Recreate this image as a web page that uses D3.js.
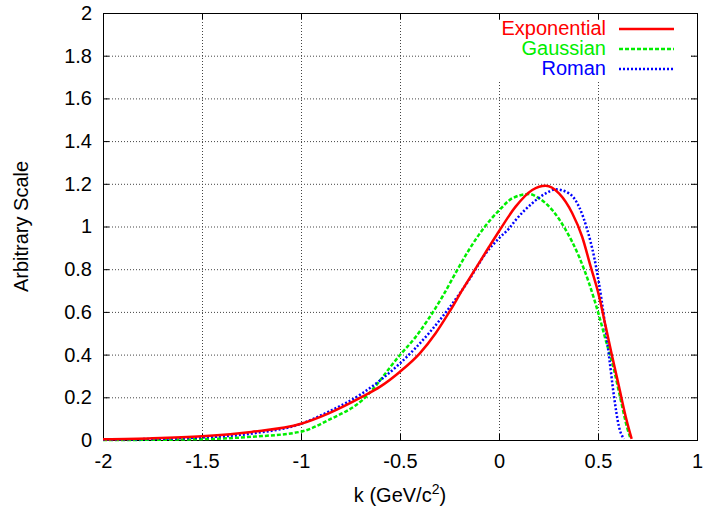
<!DOCTYPE html>
<html>
<head>
<meta charset="utf-8">
<script src="https://cdn.jsdelivr.net/npm/d3@7"></script>
<style>
  body { margin: 0; background: #fff; }
  text { font-family: "Liberation Sans", Arial, sans-serif; }
</style>
</head>
<body>
<svg id="chart" width="707" height="511"></svg>
<script>
// values
var xTicks = [-2, -1.5, -1, -0.5, 0, 0.5, 1];
var yTicks = [0, 0.2, 0.4, 0.6, 0.8, 1, 1.2, 1.4, 1.6, 1.8, 2];

var expX = [-2, -1.75, -1.5, -1.25, -1, -0.86, -0.69, -0.6, -0.5, -0.4, -0.32, -0.25, -0.185, -0.12, -0.05, 0, 0.084, 0.168, 0.236, 0.303, 0.37, 0.42, 0.463, 0.502, 0.539, 0.572, 0.606, 0.64, 0.67];
var expY = [0.003, 0.008, 0.018, 0.038, 0.076, 0.125, 0.203, 0.25, 0.32, 0.406, 0.5, 0.601, 0.703, 0.8, 0.905, 0.978, 1.093, 1.171, 1.191, 1.155, 1.062, 0.952, 0.812, 0.687, 0.531, 0.39, 0.25, 0.109, 0.005];

var gauX = [-2, -1.75, -1.5, -1.25, -1, -0.86, -0.69, -0.5, -0.42, -0.354, -0.286, -0.22, -0.152, -0.084, 0, 0.067, 0.152, 0.202, 0.269, 0.337, 0.404, 0.455, 0.502, 0.539, 0.581, 0.615, 0.648, 0.665];
var gauY = [0.0, 0.001, 0.004, 0.015, 0.039, 0.094, 0.187, 0.398, 0.484, 0.57, 0.671, 0.781, 0.89, 0.984, 1.075, 1.132, 1.152, 1.132, 1.077, 0.984, 0.859, 0.734, 0.593, 0.468, 0.328, 0.187, 0.055, 0.005];

var romX = [-2, -1.75, -1.5, -1.25, -1, -0.86, -0.69, -0.5, -0.354, -0.253, -0.152, -0.067, 0, 0.05, 0.084, 0.168, 0.236, 0.286, 0.354, 0.404, 0.446, 0.48, 0.505, 0.53, 0.556, 0.581, 0.606, 0.631];
var romY = [0.002, 0.005, 0.012, 0.03, 0.076, 0.133, 0.219, 0.359, 0.5, 0.617, 0.749, 0.874, 0.945, 0.99, 1.03, 1.109, 1.155, 1.174, 1.155, 1.093, 0.984, 0.859, 0.734, 0.578, 0.39, 0.203, 0.062, 0.005];

var seriesNames = ["Exponential", "Gaussian", "Roman"];
var seriesColors = ["#ff0000", "#00ee00", "#0000ff"];
var seriesDash = [null, "4,2", "2,2"];

var svg = d3.select('#chart');
var pL = 103, pR = 697, pT = 13, pB = 440;

var x = d3.scaleLinear().domain([-2, 1]).range([pL, pR]);
var y = d3.scaleLinear().domain([0, 2]).range([pB, pT]);

// grid
var grid = svg.append('g');
grid.selectAll('.gx').data(xTicks.slice(1, -1)).enter().append('line')
  .attr('x1', d => x(d) + 0.5).attr('x2', d => x(d) + 0.5)
  .attr('y1', pT).attr('y2', pB)
  .attr('stroke', '#444').attr('stroke-width', 1).attr('stroke-dasharray', '1,2');
grid.selectAll('.gy').data(yTicks.slice(1, -1)).enter().append('line')
  .attr('y1', d => y(d) + 0.5).attr('y2', d => y(d) + 0.5)
  .attr('x1', pL).attr('x2', pR)
  .attr('stroke', '#444').attr('stroke-width', 1).attr('stroke-dasharray', '1,2');

// legend background hides grid
svg.append('rect').attr('x', 472).attr('y', 20).attr('width', 218).attr('height', 60).attr('fill', '#fff');

// axes
var xAxis = d3.axisBottom(x).tickValues(xTicks).tickSize(-6).tickPadding(14).tickFormat(d => String(d));
var yAxis = d3.axisLeft(y).tickValues(yTicks).tickSize(-6).tickPadding(11).tickFormat(d => String(+d.toFixed(1)));

svg.append('g').attr('transform', 'translate(0,' + pB + ')').call(xAxis);
svg.append('g').attr('transform', 'translate(' + pL + ',0)').call(yAxis);
svg.append('g').attr('transform', 'translate(0,' + pT + ')')
  .call(d3.axisTop(x).tickValues(xTicks).tickSize(-6).tickFormat(''));
svg.append('g').attr('transform', 'translate(' + pR + ',0)')
  .call(d3.axisRight(y).tickValues(yTicks).tickSize(-6).tickFormat(''));
svg.selectAll('.domain').remove();
svg.selectAll('.tick line').attr('stroke', '#000');
svg.selectAll('.tick text').attr('font-size', 20).attr('fill', '#000')
  .style('font-family', '"Liberation Sans", Arial, sans-serif');

svg.append('rect').attr('x', pL + 0.5).attr('y', pT + 0.5).attr('width', pR - pL).attr('height', pB - pT)
  .attr('fill', 'none').attr('stroke', '#000').attr('stroke-width', 1);

// curves
svg.append('clipPath').attr('id', 'clip').append('rect')
  .attr('x', pL).attr('y', pT).attr('width', pR - pL).attr('height', pB - pT + 2);

var line = d3.line().x(d => x(d[0])).y(d => y(d[1])).curve(d3.curveMonotoneX);
var allX = [expX, gauX, romX], allY = [expY, gauY, romY];
var order = [1, 2, 0];
order.forEach(function(i) {
  var pts = allX[i].map((v, j) => [v, allY[i][j]]);
  svg.append('path').attr('d', line(pts)).attr('clip-path', 'url(#clip)')
    .attr('fill', 'none').attr('stroke', seriesColors[i]).attr('stroke-width', 2.5)
    .attr('stroke-dasharray', seriesDash[i]);
});

// legend
seriesNames.forEach(function(name, i) {
  var ly = 29 + i * 20;
  svg.append('text').attr('x', 606).attr('y', ly + 6)
    .attr('text-anchor', 'end').attr('font-size', 20).attr('fill', seriesColors[i]).text(name);
  svg.append('line').attr('x1', 619).attr('x2', 674).attr('y1', ly).attr('y2', ly)
    .attr('stroke', seriesColors[i]).attr('stroke-width', 2.5).attr('stroke-dasharray', seriesDash[i]);
});

// axis labels
svg.append('text').attr('transform', 'translate(28,' + ((pT + pB) / 2) + ') rotate(-90)')
  .attr('text-anchor', 'middle').attr('font-size', 20).text('Arbitrary Scale');
var xl = svg.append('text').attr('x', 400).attr('y', 502).attr('text-anchor', 'middle').attr('font-size', 20);
xl.append('tspan').text('k (GeV/c');
xl.append('tspan').attr('font-size', 14).attr('dy', -8).text('2');
xl.append('tspan').attr('dy', 8).text(')');
</script>
</body>
</html>
